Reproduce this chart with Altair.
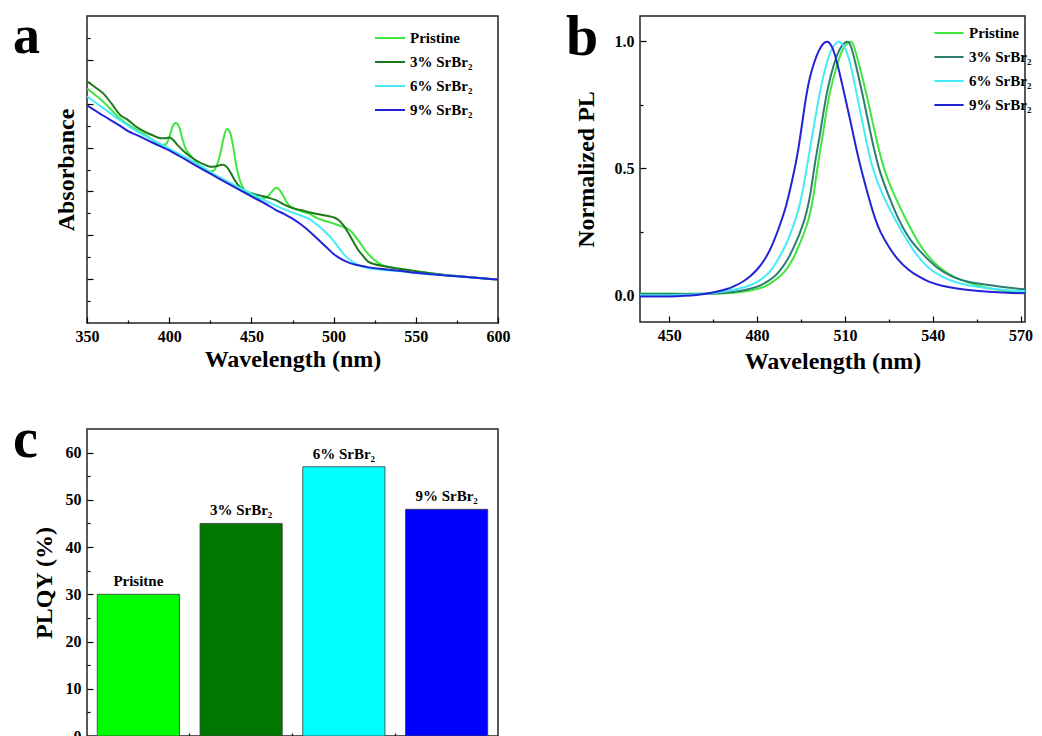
import altair as alt
import pandas as pd

FONT = "Liberation Serif"

# ---------------- Panel a : absorbance ----------------
series_a = ["Pristine", "3% SrBr₂", "6% SrBr₂", "9% SrBr₂"]
colors_a = ["#3ee63e", "#1c7a1c", "#45ecf8", "#2222d6"]

abs_wl_pristine = [350, 355, 360, 365, 370, 375, 380, 385, 390, 395, 398, 400, 402, 404, 406, 408,
                   410, 413, 416, 420, 424, 427, 429, 431, 433, 435, 437, 439, 441, 443, 446, 450,
                   455, 459, 462, 465, 467, 469, 472, 476, 480, 485, 490, 495, 500, 505, 510, 515,
                   520, 525, 530, 535, 540, 550, 560, 575, 590, 600]
abs_pristine = [1.07, 1.04, 1.008, 0.97, 0.932, 0.905, 0.883, 0.86, 0.835, 0.81, 0.815, 0.845, 0.895,
                0.912, 0.895, 0.84, 0.795, 0.765, 0.738, 0.708, 0.69, 0.695, 0.72, 0.77, 0.84, 0.885,
                0.87, 0.8, 0.71, 0.65, 0.605, 0.583, 0.567, 0.572, 0.595, 0.617, 0.608, 0.585, 0.545,
                0.522, 0.511, 0.499, 0.478, 0.465, 0.453, 0.44, 0.423, 0.377, 0.324, 0.286, 0.263,
                0.254, 0.248, 0.236, 0.226, 0.214, 0.204, 0.198]

abs_wl_3 = [350, 355, 360, 365, 370, 375, 380, 385, 390, 395, 398, 400, 402, 405, 410, 415, 420, 425,
            428, 431, 433, 435, 437, 440, 443, 446, 450, 455, 460, 465, 470, 475, 480, 485, 490, 495,
            500, 503, 506, 509, 512, 515, 518, 521, 525, 530, 535, 540, 550, 560, 575, 590, 600]
abs_3 = [1.102, 1.075, 1.046, 1.0, 0.95, 0.925, 0.895, 0.873, 0.856, 0.843, 0.843, 0.846, 0.838, 0.812,
         0.775, 0.748, 0.727, 0.713, 0.714, 0.72, 0.722, 0.712, 0.69, 0.65, 0.62, 0.602, 0.592, 0.582,
         0.572, 0.56, 0.54, 0.524, 0.515, 0.505, 0.497, 0.49, 0.482, 0.47, 0.445, 0.41, 0.37, 0.333,
         0.305, 0.28, 0.268, 0.26, 0.253, 0.247, 0.236, 0.226, 0.214, 0.204, 0.198]

abs_wl_6 = [350, 360, 370, 375, 380, 390, 400, 410, 420, 430, 440, 450, 460, 470, 480, 485, 490, 495,
            500, 503, 506, 510, 515, 520, 530, 540, 550, 560, 575, 590, 600]
abs_6 = [1.033, 0.98, 0.925, 0.9, 0.876, 0.835, 0.795, 0.755, 0.712, 0.668, 0.628, 0.59, 0.552, 0.518,
         0.49, 0.475, 0.448, 0.415, 0.375, 0.345, 0.315, 0.287, 0.265, 0.252, 0.242, 0.236, 0.228,
         0.222, 0.213, 0.204, 0.198]

abs_wl_9 = [350, 360, 370, 375, 380, 390, 400, 410, 420, 430, 440, 450, 460, 465, 470, 475, 480, 485,
            490, 495, 500, 505, 510, 515, 520, 530, 540, 550, 560, 575, 590, 600]
abs_9 = [0.993, 0.945, 0.9, 0.875, 0.858, 0.822, 0.787, 0.745, 0.702, 0.66, 0.618, 0.577, 0.538, 0.515,
         0.497, 0.476, 0.45, 0.42, 0.385, 0.35, 0.315, 0.29, 0.273, 0.263, 0.256, 0.246, 0.238, 0.229,
         0.222, 0.213, 0.204, 0.198]

# ---------------- Panel b : normalized PL ----------------
series_b = ["Pristine", "3% SrBr₂", "6% SrBr₂", "9% SrBr₂"]
colors_b = ["#3ee63e", "#2e7d70", "#45ecf8", "#2222d6"]

pl_wl_pristine = [440, 450, 460, 470, 475, 480, 482.5, 485, 487.6, 490, 492.1, 494.5, 496.9, 498.3,
                  499.4, 500.9, 502.5, 504.3, 507.4, 509.5, 511.2, 511.9, 512.6, 513.3, 514.7, 517.6,
                  520, 523.2, 527, 530.9, 534, 537.4, 542, 547, 552, 556.7, 565, 575, 590]
pl_pristine = [0.007, 0.007, 0.006, 0.008, 0.013, 0.025, 0.033, 0.05, 0.072, 0.1, 0.138, 0.2, 0.27,
               0.33, 0.401, 0.53, 0.63, 0.783, 0.915, 0.98, 0.997, 1.0, 0.995, 0.975, 0.915, 0.783,
               0.65, 0.493, 0.39, 0.296, 0.23, 0.165, 0.11, 0.072, 0.05, 0.033, 0.015, 0.005, 0.002]

pl_wl_3 = [440, 450, 460, 470, 475, 480.2, 483, 485.9, 488, 490.4, 493, 495.5, 497, 498.3, 499.8,
           501.5, 503.4, 506.2, 508.5, 510.1, 510.8, 511.5, 512.3, 513.6, 516.2, 518.5, 521.5, 525,
           528.3, 532, 536.3, 541, 546.5, 552, 557.8, 565, 575, 590]
pl_3 = [0.005, 0.005, 0.005, 0.01, 0.018, 0.033, 0.05, 0.072, 0.1, 0.138, 0.2, 0.27, 0.33, 0.401,
        0.53, 0.63, 0.783, 0.915, 0.98, 0.997, 1.0, 0.995, 0.975, 0.915, 0.783, 0.65, 0.493, 0.39,
        0.296, 0.22, 0.165, 0.11, 0.072, 0.052, 0.043, 0.03, 0.02, 0.015]

pl_wl_6 = [440, 450, 460, 470, 476.2, 480, 482.5, 485, 487, 490, 492.3, 494, 495.5, 497.2, 499,
           501.1, 503.6, 505.5, 507.2, 507.9, 508.6, 510, 511.9, 514.2, 516, 519.3, 523, 527.2, 530,
           534, 538, 543.1, 548, 554.4, 565, 575, 590]
pl_6 = [0.0, 0.0, 0.002, 0.015, 0.033, 0.05, 0.072, 0.1, 0.138, 0.2, 0.27, 0.33, 0.401, 0.52, 0.64,
        0.783, 0.915, 0.975, 0.997, 1.0, 0.996, 0.98, 0.915, 0.783, 0.68, 0.493, 0.39, 0.296, 0.24,
        0.165, 0.11, 0.072, 0.05, 0.033, 0.02, 0.013, 0.008]

pl_wl_9 = [440, 450, 460, 466, 470, 472, 475, 477.4, 480, 482.5, 485, 487.6, 490, 492.3, 494, 496.6,
           498, 499.4, 501, 502.5, 503.1, 503.8, 504.5, 505, 506, 507.4, 510, 512, 514, 515.6, 518,
           520.4, 522, 524.9, 528, 531.7, 535, 538.5, 543, 548.7, 555, 565.7, 575, 590]
pl_9 = [-0.005, -0.005, 0.0, 0.013, 0.025, 0.035, 0.052, 0.072, 0.1, 0.138, 0.19, 0.27, 0.35, 0.47,
        0.56, 0.78, 0.86, 0.915, 0.965, 0.99, 0.997, 1.0, 0.997, 0.99, 0.97, 0.915, 0.783, 0.68,
        0.57, 0.493, 0.39, 0.296, 0.25, 0.191, 0.14, 0.099, 0.075, 0.053, 0.037, 0.026, 0.017,
        0.009, 0.007, 0.005]

# ---------------- Panel c : PLQY ----------------
bar_names = ["Pristine", "3% SrBr₂", "6% SrBr₂", "9% SrBr₂"]
bar_labels = ["Prisitne", "3% SrBr₂", "6% SrBr₂", "9% SrBr₂"]
bar_values = [30, 45, 57, 48]
bar_colors = ["#00ff00", "#007800", "#00ffff", "#0000ff"]


def long_df(pairs, names, fx, fy, fs):
    frames = []
    for (w, v), n in zip(pairs, names):
        frames.append(pd.DataFrame({fx: w, fy: v, fs: n}))
    return pd.concat(frames, ignore_index=True)


abs_df = long_df([(abs_wl_pristine, abs_pristine), (abs_wl_3, abs_3), (abs_wl_6, abs_6),
                  (abs_wl_9, abs_9)], series_a, "wl", "A", "series")
pl_df = long_df([(pl_wl_pristine, pl_pristine), (pl_wl_3, pl_3), (pl_wl_6, pl_6),
                 (pl_wl_9, pl_9)], series_b, "wl", "PL", "sample")
plqy_df = pd.DataFrame({"name": bar_names, "label": bar_labels, "plqy": bar_values})

LBL = dict(labelFont=FONT, labelFontSize=16, labelFontWeight="bold", labelColor="black",
           titleFont=FONT, titleFontSize=24, titleFontWeight="bold", titleColor="black",
           tickColor="black", tickWidth=1.2, domain=False, grid=False, labelFlush=False)


def major(orient, values, title=None, labels=True, fmt=None, lp=4, tp=6, **kw):
    d = dict(LBL)
    d.update(dict(orient=orient, values=values, tickSize=6, offset=-6, labels=labels,
                  labelPadding=lp, titlePadding=tp))
    if fmt:
        d["format"] = fmt
    d["title"] = title
    d.update(kw)
    return alt.Axis(**d)


def minor(orient, values, **kw):
    d = dict(LBL)
    d.update(dict(orient=orient, values=values, tickSize=3, offset=-3, labels=False, title=None))
    d.update(kw)
    return alt.Axis(**d)


def letter(ch, dx, dy, size):
    return alt.Chart(pd.DataFrame({"t": [ch]})).mark_text(
        font=FONT, fontSize=size, fontWeight="bold", align="left", baseline="alphabetic",
        color="black").encode(text="t:N", x=alt.value(dx), y=alt.value(dy))


LEG = dict(title=None, orient="none", symbolType="stroke", symbolStrokeWidth=2,
           labelFont=FONT, labelFontSize=15, labelFontWeight="bold", labelColor="black",
           labelOffset=4, padding=0, rowPadding=-10)

# panel a
xa = alt.Scale(domain=[350, 600], nice=False, zero=False)
ya = alt.Scale(domain=[0, 1.4], nice=False)
lines_a = alt.Chart(abs_df).mark_line(strokeWidth=2, clip=True, interpolate="monotone").encode(
    x=alt.X("wl:Q", scale=xa, axis=major("bottom", [350, 400, 450, 500, 550, 600],
                                          "Wavelength (nm)", fmt="d", lp=5, tp=3)),
    y=alt.Y("A:Q", scale=ya, axis=major("left", [0.2, 0.4, 0.6, 0.8, 1.0, 1.2], "Absorbance",
                                         labels=False, tp=8)),
    color=alt.Color("series:N", sort=series_a,
                    scale=alt.Scale(domain=series_a, range=colors_a),
                    legend=alt.Legend(legendX=287, legendY=6, symbolSize=900, **LEG)),
)
minor_a = alt.Chart(abs_df).mark_point(opacity=0, size=0, clip=True).encode(
    x=alt.X("wl:Q", scale=xa, axis=minor("bottom", [375, 425, 475, 525, 575])),
    y=alt.Y("A:Q", scale=ya, axis=minor("left", [0.1, 0.3, 0.5, 0.7, 0.9, 1.1, 1.3])),
)
panel_a = alt.layer(lines_a, minor_a, letter("a", -74, 37, 54)).resolve_axis(
    x="independent", y="independent").properties(width=411, height=307)

# panel b
xb = alt.Scale(domain=[440, 571.5], nice=False, zero=False)
yb = alt.Scale(domain=[-0.105, 1.1], nice=False, zero=False)
lines_b = alt.Chart(pl_df).mark_line(strokeWidth=2, clip=True, interpolate="basis").encode(
    x=alt.X("wl:Q", scale=xb, axis=major("bottom", [450, 480, 510, 540, 570],
                                          "Wavelength (nm)", fmt="d", lp=5, tp=6)),
    y=alt.Y("PL:Q", scale=yb, axis=major("left", [0.0, 0.5, 1.0], "Normalized PL", fmt=".1f",
                                          lp=6, tp=16)),
    color=alt.Color("sample:N", sort=series_b,
                    scale=alt.Scale(domain=series_b, range=colors_b),
                    legend=alt.Legend(legendX=293, legendY=1, symbolSize=850, **LEG)),
)
minor_b = alt.Chart(pl_df).mark_point(opacity=0, size=0, clip=True).encode(
    x=alt.X("wl:Q", scale=xb, axis=minor("bottom", [465, 495, 525, 555])),
    y=alt.Y("PL:Q", scale=yb, axis=minor("left", [0.25, 0.75])),
)
panel_b = alt.layer(lines_b, minor_b, letter("b", -74, 39, 58)).resolve_axis(
    x="independent", y="independent").properties(width=385, height=306)

# panel c
xc = alt.Scale(domain=bar_names, paddingInner=0.2, paddingOuter=0.1)
yc = alt.Scale(domain=[0, 65], nice=False)
bars = alt.Chart(plqy_df).mark_bar(stroke="#3a3a3a", strokeWidth=0.8).encode(
    x=alt.X("name:N", scale=xc, sort=bar_names, axis=major("bottom", bar_names, None, labels=False)),
    y=alt.Y("plqy:Q", scale=yc, axis=major("left", [0, 10, 20, 30, 40, 50, 60], "PLQY (%)",
                                            fmt="d", lp=6, tp=9)),
    color=alt.Color("name:N", scale=alt.Scale(domain=bar_names, range=bar_colors), legend=None),
)
bar_text = alt.Chart(plqy_df).mark_text(
    font=FONT, fontSize=15, fontWeight="bold", baseline="bottom", dy=-5, color="black").encode(
    x=alt.X("name:N", scale=xc, sort=bar_names, axis=None),
    y=alt.Y("plqy:Q", scale=yc, axis=None),
    text="label:N",
)
minor_c = alt.Chart(plqy_df).mark_point(opacity=0, size=0, clip=True).encode(
    x=alt.X("name:N", scale=xc, sort=bar_names,
            axis=minor("bottom", bar_names[1:], bandPosition=-0.125)),
    y=alt.Y("plqy:Q", scale=yc, axis=minor("left", [5, 15, 25, 35, 45, 55])),
)
panel_c = alt.layer(bars, bar_text, minor_c, letter("c", -74, 28, 56)).resolve_axis(
    x="independent", y="independent").properties(width=411, height=307)

top = alt.hconcat(panel_a, panel_b, spacing=54).resolve_scale(color="independent")
chart = alt.vconcat(top, panel_c, spacing=37).resolve_scale(color="independent").configure_view(
    stroke="#222222", strokeWidth=1.5
).properties(padding={"left": 4, "top": 0, "right": 0, "bottom": 0}, background="white")

chart.save("out.html", embed_options={"renderer": "svg", "actions": False})
